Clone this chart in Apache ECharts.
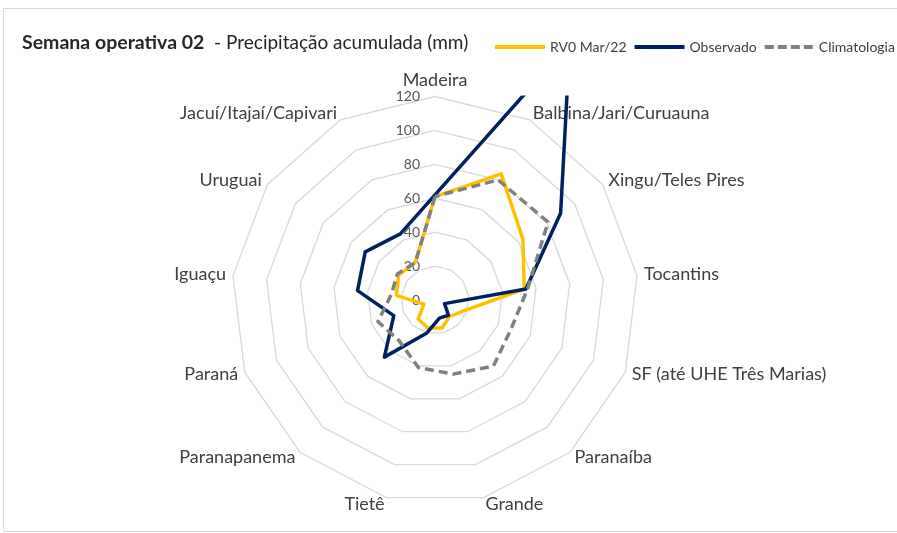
<!DOCTYPE html>
<html>
<head>
<meta charset="utf-8">
<script src="https://cdn.jsdelivr.net/npm/echarts@6/dist/echarts.min.js"></script>
<style>
html, body { margin: 0; padding: 0; background: #fff; }
#chart { width: 897px; height: 533px; }
</style>
</head>
<body>
<div id="chart"></div>
<script>
// categorias em sentido horario a partir do topo
var categories = ['Madeira', 'Balbina/Jari/Curuauna', 'Xingu/Teles Pires', 'Tocantins',
	'SF (até UHE Três Marias)', 'Paranaíba', 'Grande', 'Tietê', 'Paranapanema',
	'Paraná', 'Iguaçu', 'Uruguai', 'Jacuí/Itajaí/Capivari'];
var rv0 = [61, 84, 63, 53, 18, 13, 17, 17, 15, 7, 23, 26, 25];
var observado = [62, 171, 90, 54, 6, 12, 11, 20, 45, 26, 46, 50, 44];
var climatologia = [61, 80, 81, 55, 48, 52, 45, 41, 32, 36, 26, 27, 25];
var axisMax = 120;

// o radar do echarts gira no sentido anti-horario: reordena
var order = [0];
for (var i = categories.length - 1; i > 0; i--) order.push(i);
function reorder(arr) {
	return order.map(function(k) { return arr[k]; });
}

var indicator = order.map(function(k, idx) {
	var ind = { name: categories[k], max: axisMax, min: 0 };
	if (idx === 0) ind.axisLabel = { show: true };
	return ind;
});

var myChart = echarts.init(document.getElementById('chart'));
var option = {
	animation: false,
	title: {
		left: 17,
		top: 28,
		text: '{b|Semana operativa 02}{n|  - Precipitação acumulada (mm)}',
		textStyle: {
			fontWeight: 'normal',
			rich: {
				b: { fontFamily: 'Lato', fontSize: 19.5, fontWeight: 'bold', color: '#262626' },
				n: { fontFamily: 'Lato', fontSize: 19, fontWeight: 'normal', color: '#262626' }
			}
		}
	},
	legend: {
		left: 490,
		top: 35,
		width: 600,
		itemWidth: 50,
		itemHeight: 4,
		itemGap: 8,
		textStyle: { fontFamily: 'Lato', fontSize: 14, color: '#404040' },
		data: [
			{ name: 'RV0 Mar/22', icon: 'path://M0,0H50V4H0Z' },
			{ name: 'Observado', icon: 'path://M0,0H50V4H0Z' },
			{ name: 'Climatologia', icon: 'path://M0,0H9V4H0Z M13,0H22V4H13Z M26,0H35V4H26Z M39,0H48V4H39Z' }
		]
	},
	radar: {
		center: [435, 300],
		radius: 203.5,
		startAngle: 90,
		splitNumber: 6,
		shape: 'polygon',
		indicator: indicator,
		nameGap: 7,
		axisName: { fontFamily: 'Lato', fontSize: 18, color: '#404040' },
		axisLine: { show: false },
		axisTick: { show: false },
		axisLabel: { show: false, fontFamily: 'Lato', fontSize: 14, color: '#595959', margin: 15 },
		splitLine: { lineStyle: { color: '#d9d9d9', width: 1.3 } },
		splitArea: { show: false }
	},
	graphic: [
		{
			type: 'rect', z: -1, silent: true,
			shape: { x: 3.5, y: 8.5, width: 910, height: 523 },
			style: { fill: 'none', stroke: '#d9d9d9', lineWidth: 1 }
		},
		// recorte da area de plotagem (a linha observada sai do grafico)
		{
			type: 'rect', z: 3, silent: true,
			shape: { x: 480, y: 20, width: 120, height: 75.5 },
			style: { fill: '#fff' }
		}
	],
	series: [{
		type: 'radar',
		symbol: 'none',
		data: [{
			name: 'RV0 Mar/22',
			value: reorder(rv0),
			itemStyle: { color: '#FFC000' },
			lineStyle: { color: '#FFC000', width: 3.5 }
		}, {
			name: 'Observado',
			value: reorder(observado),
			itemStyle: { color: '#002060' },
			lineStyle: { color: '#002060', width: 3.5 }
		}, {
			name: 'Climatologia',
			value: reorder(climatologia),
			itemStyle: { color: '#808080' },
			lineStyle: { color: '#808080', width: 3.5, type: [9, 5] }
		}]
	}]
};
myChart.setOption(option);
</script>
</body>
</html>
